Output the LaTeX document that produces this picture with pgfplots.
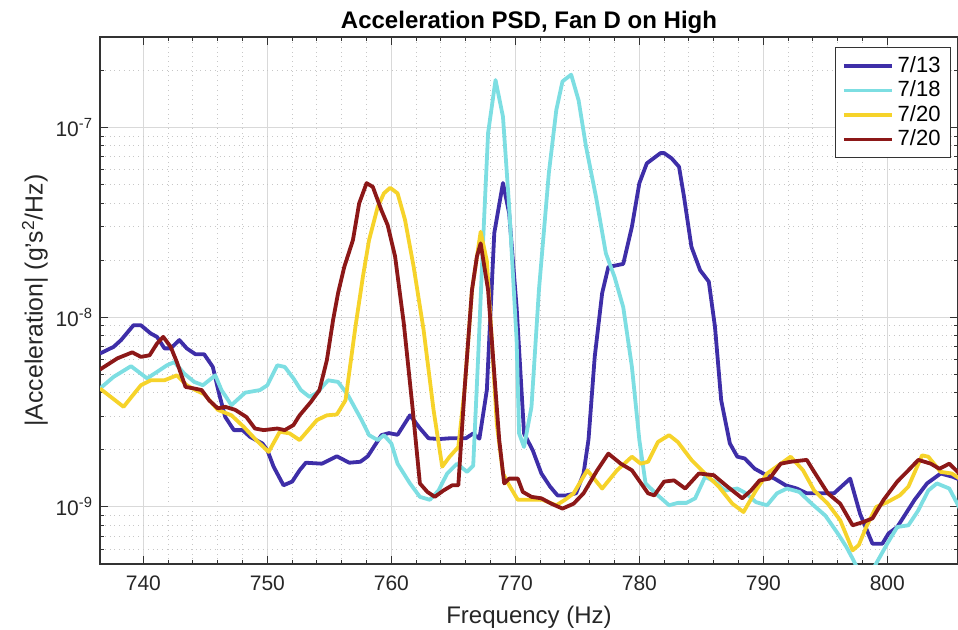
\documentclass[border=0pt]{standalone}
\usepackage{fontspec}
\setmainfont{Liberation Sans}
\usepackage{pgfplots}
\pgfplotsset{compat=1.18}
\definecolor{cA}{RGB}{62,46,168}
\definecolor{cB}{RGB}{125,222,226}
\definecolor{cC}{RGB}{246,211,42}
\definecolor{cD}{RGB}{140,24,24}

\pgfplotstableread{
f v
736.5 6.44e-9
737.6 6.98e-9
738.2 7.58e-9
739.2 9.07e-9
739.8 9.07e-9
740.6 8.2e-9
741.1 7.88e-9
741.7 6.85e-9
742.2 6.85e-9
742.9 7.58e-9
743.5 6.85e-9
744.2 6.38e-9
744.9 6.38e-9
745.6 5.47e-9
746.1 3.96e-9
746.6 2.98e-9
747.3 2.54e-9
748.0 2.54e-9
748.6 2.34e-9
749.6 2.16e-9
750.0 1.99e-9
750.5 1.63e-9
751.3 1.30e-9
752.0 1.36e-9
752.6 1.56e-9
753.1 1.71e-9
754.4 1.69e-9
755.6 1.85e-9
756.6 1.71e-9
757.5 1.73e-9
758.1 1.85e-9
759.2 2.39e-9
759.8 2.45e-9
760.5 2.40e-9
761.5 3.04e-9
762.3 2.60e-9
763.0 2.30e-9
763.9 2.28e-9
764.7 2.30e-9
766.0 2.30e-9
766.6 2.44e-9
767.1 2.29e-9
767.7 4.13e-9
768.3 2.78e-8
769.0 5.1e-8
769.5 3.53e-8
770.1 1.13e-8
770.7 2.44e-9
771.4 1.99e-9
772.1 1.50e-9
772.8 1.28e-9
773.4 1.15e-9
774.1 1.15e-9
774.9 1.18e-9
775.5 1.50e-9
775.9 2.27e-9
776.4 6.18e-9
777.0 1.34e-8
777.5 1.84e-8
778.7 1.91e-8
779.4 3.0e-8
780.0 5.09e-8
780.6 6.47e-8
781.7 7.33e-8
782.0 7.33e-8
782.6 6.88e-8
783.2 6.21e-8
783.6 4.32e-8
784.2 2.35e-8
784.9 1.77e-8
785.6 1.54e-8
786.1 8.89e-9
786.6 3.65e-9
787.3 2.16e-9
787.9 1.84e-9
788.5 1.80e-9
789.3 1.59e-9
790.0 1.50e-9
790.9 1.41e-9
791.8 1.30e-9
792.7 1.25e-9
793.5 1.18e-9
795.7 1.18e-9
797.0 1.41e-9
797.8 9.2e-10
798.8 6.4e-10
799.6 6.4e-10
800.1 7.25e-10
800.8 7.84e-10
802.2 1.09e-9
803.2 1.33e-9
804.3 1.50e-9
805.3 1.44e-9
806.2 1.36e-9
}\dataA

\pgfplotstableread{
f v
736.5 4.21e-9
737.6 4.85e-9
739.0 5.52e-9
740.3 4.76e-9
741.1 5.15e-9
741.9 5.58e-9
742.5 5.80e-9
743.3 5.04e-9
744.1 4.56e-9
744.8 4.38e-9
745.8 4.94e-9
746.3 4.13e-9
747.1 3.44e-9
748.2 4.00e-9
749.4 4.13e-9
750.0 4.38e-9
750.8 5.58e-9
751.4 5.47e-9
752.1 4.76e-9
752.7 4.13e-9
753.4 3.80e-9
754.0 4.00e-9
754.9 4.65e-9
755.7 4.56e-9
756.5 3.88e-9
757.6 2.87e-9
758.2 2.39e-9
758.9 2.25e-9
759.4 2.39e-9
760.0 2.16e-9
760.5 1.69e-9
761.5 1.33e-9
762.3 1.13e-9
763.1 1.09e-9
763.8 1.22e-9
764.5 1.50e-9
765.3 1.69e-9
766.1 1.53e-9
766.6 1.65e-9
767.0 6.18e-9
767.4 2.55e-8
767.8 9.35e-8
768.4 1.78e-7
769.0 1.14e-7
769.5 3.82e-8
770.1 7.58e-9
770.3 2.44e-9
770.7 2.07e-9
771.3 3.37e-9
771.9 1.39e-8
772.7 5.75e-8
773.3 1.235e-7
773.8 1.75e-7
774.5 1.90e-7
775.1 1.39e-7
775.7 7.92e-8
776.5 4.32e-8
777.3 2.17e-8
778.0 1.63e-8
778.7 1.13e-8
779.4 5.47e-9
780.0 2.25e-9
780.5 1.33e-9
781.5 1.15e-9
782.4 1.02e-9
783.1 1.05e-9
783.8 1.05e-9
784.5 1.11e-9
785.3 1.44e-9
786.1 1.36e-9
786.9 1.22e-9
787.9 1.25e-9
788.6 1.18e-9
789.4 1.06e-9
790.3 1.02e-9
791.1 1.18e-9
791.9 1.25e-9
792.9 1.20e-9
793.9 1.04e-9
795.0 9.0e-10
796.0 7.25e-10
796.7 6.15e-10
797.2 5.34e-10
797.7 4.6e-10
798.4 4.1e-10
799.0 4.9e-10
800.0 6.41e-10
800.8 7.84e-10
801.7 8.0e-10
802.5 9.6e-10
803.3 1.22e-9
804.0 1.33e-9
805.0 1.25e-9
806.2 8.86e-10
}\dataB

\pgfplotstableread{
f v
736.5 4.21e-9
738.4 3.37e-9
739.8 4.38e-9
740.6 4.65e-9
741.7 4.65e-9
742.7 4.94e-9
743.5 4.38e-9
744.2 4.13e-9
744.9 3.93e-9
746.0 3.25e-9
747.1 3.04e-9
748.1 2.64e-9
749.1 2.25e-9
750.1 1.95e-9
751.0 2.49e-9
751.8 2.44e-9
752.6 2.25e-9
754.0 2.87e-9
754.8 3.04e-9
755.6 3.07e-9
756.3 3.65e-9
756.7 5.70e-9
757.1 8.89e-9
757.7 1.63e-8
758.2 2.55e-8
758.9 3.82e-8
759.4 4.5e-8
759.9 4.81e-8
760.5 4.5e-8
761.1 3.26e-8
761.8 1.84e-8
762.6 8.56e-9
763.4 3.25e-9
764.1 1.63e-9
764.7 1.84e-9
765.4 2.07e-9
765.9 4.13e-9
766.5 1.39e-8
767.2 2.82e-8
767.7 1.98e-8
768.1 7.58e-9
768.5 2.75e-9
769.0 1.50e-9
769.5 1.30e-9
770.2 1.09e-9
771.4 1.09e-9
772.2 1.09e-9
773.3 1.02e-9
774.0 1.09e-9
774.7 1.18e-9
775.8 1.56e-9
777.0 1.25e-9
778.2 1.56e-9
779.4 1.84e-9
780.1 1.69e-9
780.7 1.73e-9
781.5 2.20e-9
782.4 2.39e-9
783.1 2.20e-9
784.2 1.77e-9
785.3 1.50e-9
786.4 1.28e-9
787.5 1.04e-9
788.4 9.4e-10
789.4 1.22e-9
790.3 1.50e-9
792.2 1.84e-9
793.2 1.56e-9
794.1 1.22e-9
795.2 1.04e-9
796.2 8.5e-10
797.2 5.9e-10
797.7 6.3e-10
798.3 7.84e-10
799.1 1.0e-9
800.0 1.06e-9
801.0 1.15e-9
801.7 1.28e-9
802.8 1.87e-9
803.3 1.84e-9
804.3 1.53e-9
805.2 1.50e-9
806.2 1.36e-9
}\dataC

\pgfplotstableread{
f v
736.5 5.3e-9
737.9 6.07e-9
739.1 6.53e-9
739.8 6.18e-9
740.5 6.3e-9
741.1 7.27e-9
741.6 7.88e-9
742.2 6.98e-9
742.7 5.80e-9
743.4 4.29e-9
744.1 4.21e-9
744.7 4.13e-9
745.3 3.65e-9
746.0 3.31e-9
746.6 3.37e-9
747.4 3.25e-9
748.3 2.98e-9
749.0 2.59e-9
749.7 2.54e-9
750.8 2.59e-9
751.4 2.54e-9
752.1 2.70e-9
752.6 3.04e-9
753.5 3.57e-9
754.2 4.13e-9
754.8 5.95e-9
755.3 9.68e-9
755.7 1.34e-8
756.2 1.84e-8
756.9 2.55e-8
757.4 3.98e-8
758.0 5.09e-8
758.5 4.87e-8
759.2 3.66e-8
759.7 3.06e-8
760.3 2.09e-8
761.0 9.3e-9
761.7 3.37e-9
762.3 1.33e-9
762.9 1.20e-9
763.5 1.13e-9
764.2 1.22e-9
764.9 1.30e-9
765.4 1.30e-9
765.9 4.13e-9
766.5 1.39e-8
766.9 2.09e-8
767.2 2.45e-8
767.8 1.39e-8
768.3 5.04e-9
768.7 2.25e-9
769.1 1.33e-9
769.5 1.41e-9
770.2 1.41e-9
770.6 1.20e-9
771.3 1.13e-9
772.1 1.11e-9
772.9 1.04e-9
773.8 9.8e-10
774.7 1.04e-9
775.5 1.18e-9
776.6 1.56e-9
777.5 1.91e-9
778.5 1.69e-9
779.4 1.56e-9
780.7 1.18e-9
781.2 1.15e-9
782.0 1.36e-9
782.8 1.38e-9
783.7 1.25e-9
784.8 1.50e-9
786.0 1.47e-9
787.1 1.28e-9
788.3 1.11e-9
789.0 1.22e-9
789.7 1.38e-9
790.5 1.41e-9
791.4 1.69e-9
792.2 1.73e-9
793.5 1.77e-9
794.1 1.53e-9
795.2 1.18e-9
796.2 1.04e-9
797.2 8.0e-10
798.0 8.3e-10
798.8 8.7e-10
799.7 1.09e-9
800.8 1.36e-9
801.7 1.56e-9
802.5 1.77e-9
803.5 1.69e-9
804.2 1.59e-9
805.0 1.69e-9
805.8 1.50e-9
806.2 1.38e-9
}\dataD

\begin{document}
\begin{tikzpicture}
\begin{axis}[
  scale only axis, width=429bp, height=263.5bp,
  ymode=log,
  xmin=736.5, xmax=805.7, ymin=5e-10, ymax=3e-7,
  xtick={740,750,...,800}, minor x tick num=4,
  ytick={1e-9,1e-8,1e-7},
  yticklabels={10\textsuperscript{-9},10\textsuperscript{-8},10\textsuperscript{-7}},
  minor ytick={6e-10,7e-10,8e-10,9e-10,2e-9,3e-9,4e-9,5e-9,6e-9,7e-9,8e-9,9e-9,2e-8,3e-8,4e-8,5e-8,6e-8,7e-8,8e-8,9e-8,2e-7,3e-7},
  grid=both,
  major grid style={black!15, line width=0.5bp},
  minor grid style={black!22, dotted, line width=0.5bp},
  axis line style={black!80, line width=0.6bp},
  major tick length=4bp, minor tick length=2bp,
  tick style={black!80, line width=0.5bp},
  /pgf/number format/assume math mode=true,
  /pgf/number format/set thousands separator={},
  tick label style={font=\fontsize{10.5bp}{12bp}\selectfont, text=black!85},
  xticklabel style={yshift=-2.5bp},
  every axis title shift=0pt,
  title={Acceleration PSD, Fan D on High},
  title style={font=\bfseries\fontsize{12bp}{14bp}\selectfont, at={(axis description cs:0.5,1.0152)}, anchor=base},
  xlabel={Frequency (Hz)},
  xlabel style={font=\fontsize{12bp}{14bp}\selectfont, text=black!85, at={(axis description cs:0.5,-0.112)}, anchor=base},
  ylabel={|Acceleration| (g's\textsuperscript{2}/Hz)},
  ylabel style={font=\fontsize{12.4bp}{14bp}\selectfont, text=black!85, at={(axis description cs:-0.0758,0.5)}, anchor=center},
  legend style={at={(axis description cs:0.9918,0.981)}, anchor=north east, draw=black!80, line width=0.5bp,
    font=\fontsize{11bp}{13bp}\selectfont, inner xsep=3bp, inner ysep=2.5bp, row sep=-1.2bp},
  legend cell align=left,
  legend image code/.code={\draw[#1] (0bp,0bp) -- (24bp,0bp);},
  every axis plot/.append style={line width=1.9bp, line join=round},
]
\addplot[cA] table[x=f,y=v]{\dataA};
\addlegendentry{7/13}
\addplot[cB] table[x=f,y=v]{\dataB};
\addlegendentry{7/18}
\addplot[cC] table[x=f,y=v]{\dataC};
\addlegendentry{7/20}
\addplot[cD] table[x=f,y=v]{\dataD};
\addlegendentry{7/20}
\end{axis}
\pgfresetboundingbox
\path ([xshift=-50bp,yshift=-33bp]current axis.south west) rectangle ([yshift=18.5bp]current axis.north east);
\end{tikzpicture}
\end{document}
